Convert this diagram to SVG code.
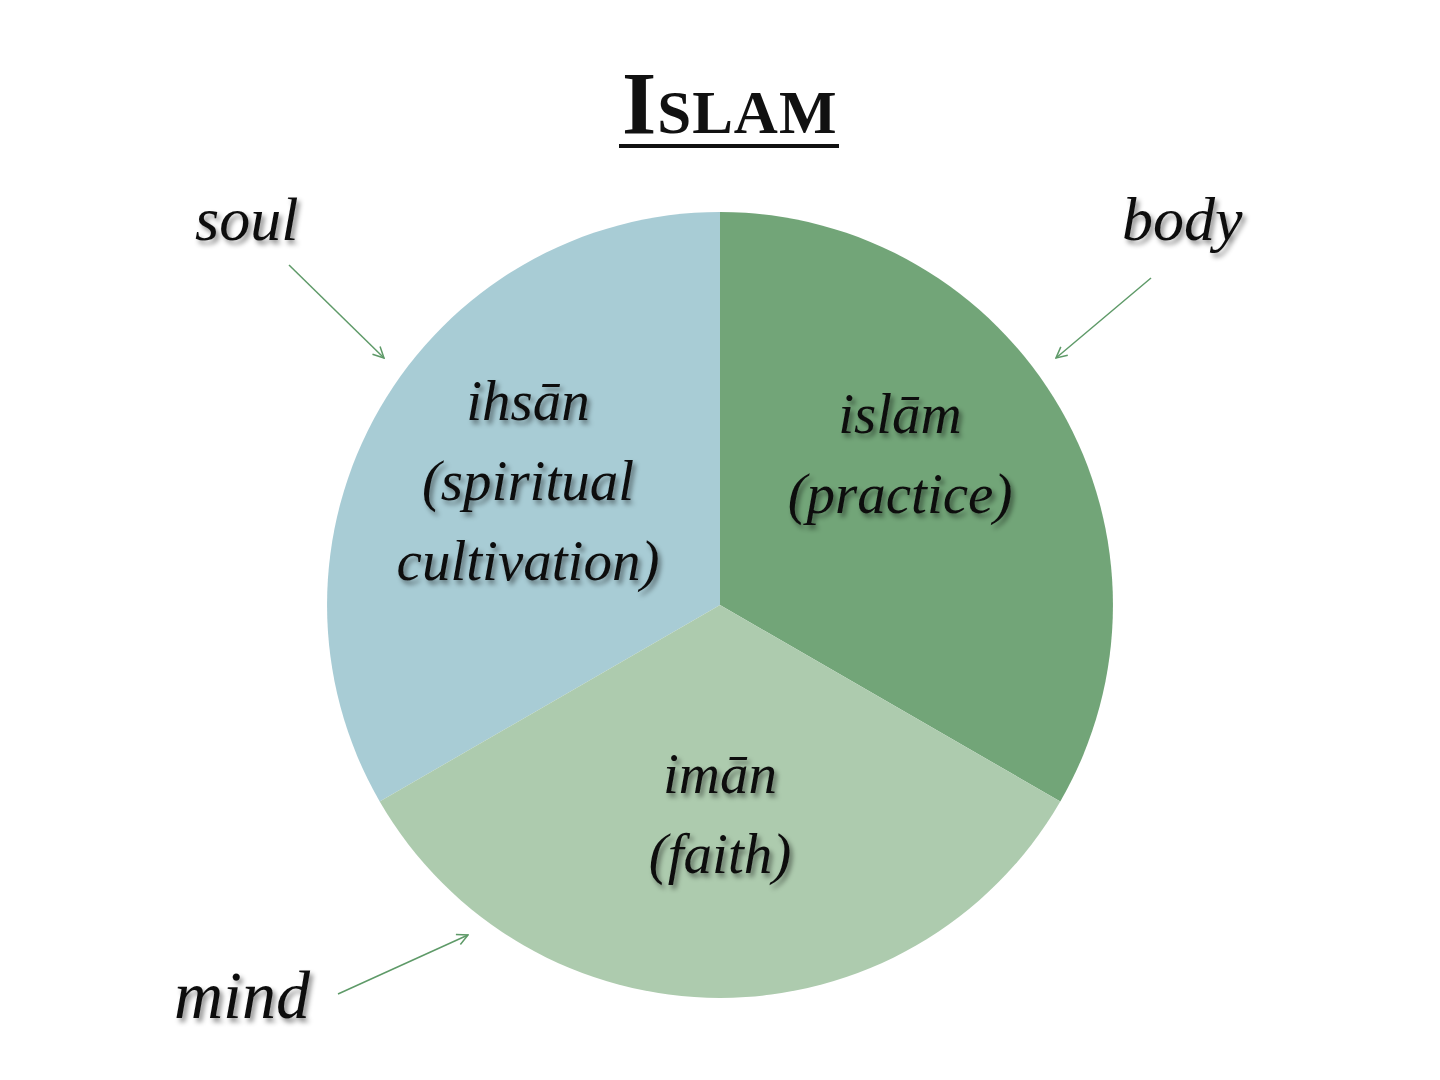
<svg xmlns="http://www.w3.org/2000/svg" width="1440" height="1080" viewBox="0 0 1440 1080">
<defs>
<filter id="sh" x="-20%" y="-20%" width="140%" height="160%">
<feDropShadow dx="3" dy="4" stdDeviation="2.5" flood-color="#000" flood-opacity="0.45"/>
</filter>
<marker id="ah" viewBox="0 0 12 12" refX="11" refY="6" markerWidth="13" markerHeight="13" markerUnits="userSpaceOnUse" orient="auto">
<path d="M1,1 L11,6 L1,11" fill="none" stroke="#5E9A68" stroke-width="1.4"/>
</marker>
</defs>
<style>
.lbl{font-family:"Liberation Serif",serif;font-style:italic;fill:#111;filter:url(#sh)}
.big{font-size:62px}
.mid{font-size:57px;text-anchor:middle}
.arr{stroke:#5E9A68;stroke-width:1.5;fill:none;marker-end:url(#ah)}
</style>
<rect width="1440" height="1080" fill="#fff"/>
<g id="title">
<text x="622" y="133" font-family="Liberation Serif,serif" font-weight="bold" fill="#111" letter-spacing="1"><tspan font-size="88">I</tspan><tspan font-size="61">SLAM</tspan></text>
<rect x="619" y="144" width="220" height="4" fill="#111"/>
</g>
<g id="pie">
<g id="ihsan">
<path d="M720,605 L720,212 A393,393 0 0 0 379.7,801.5 Z" fill="#A8CCD5"/>
<text class="lbl mid" x="528"><tspan x="528" y="420">ihsān</tspan><tspan x="528" y="500">(spiritual</tspan><tspan x="528" y="580">cultivation)</tspan></text>
</g>
<g id="islam">
<path d="M720,605 L720,212 A393,393 0 0 1 1060.3,801.5 Z" fill="#72A578"/>
<text class="lbl mid" x="900"><tspan x="900" y="433">islām</tspan><tspan x="900" y="513">(practice)</tspan></text>
</g>
<g id="iman">
<path d="M720,605 L1060.3,801.5 A393,393 0 0 1 379.7,801.5 Z" fill="#ADCBAE"/>
<text class="lbl mid" x="720"><tspan x="720" y="793">imān</tspan><tspan x="720" y="873">(faith)</tspan></text>
</g>
</g>
<g id="soul"><text class="lbl big" x="195" y="240">soul</text></g>
<g id="body"><text class="lbl big" x="1122" y="240">body</text></g>
<g id="mind"><text class="lbl" font-size="68" x="174" y="1018">mind</text></g>
<g id="connectors">
<line class="arr" x1="289" y1="265" x2="384" y2="358"/>
<line class="arr" x1="1151" y1="278" x2="1056" y2="358"/>
<line class="arr" x1="338" y1="994" x2="468" y2="935"/>
</g>
</svg>
